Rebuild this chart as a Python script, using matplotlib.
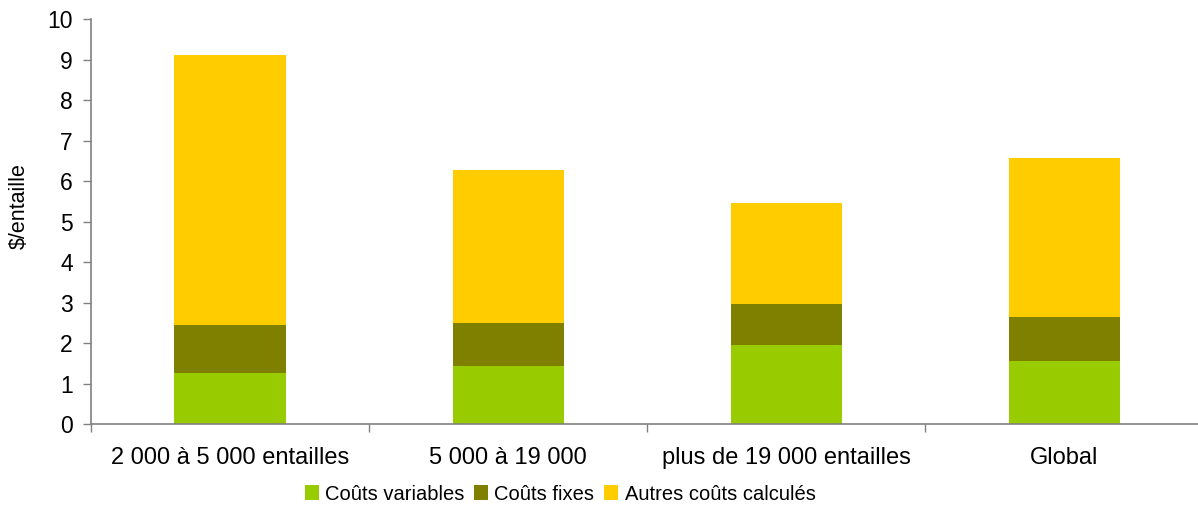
import numpy as np
import matplotlib
matplotlib.use('Agg')
import matplotlib.pyplot as plt

plt.rcParams['font.family'] = ['Liberation Sans', 'DejaVu Sans']

categories = ['2 000 à 5 000 entailles', '5 000 à 19 000',
              'plus de 19 000 entailles', 'Global']
variables = [1.27, 1.44, 1.96, 1.56]
fixes = [1.18, 1.06, 1.01, 1.09]
autres = [6.67, 3.78, 2.49, 3.92]

series = ['Coûts variables', 'Coûts fixes', 'Autres coûts calculés']
colors = ['#99CC00', '#808000', '#FFCC00']

fig = plt.figure(figsize=(11.98, 5.08), dpi=100)
ax = fig.add_axes([91 / 1198, 83.7 / 508, 1 - 91 / 1198, 405 / 508])

x = np.arange(len(categories))
bottom = np.zeros(len(categories))
for vals, name, col in zip([variables, fixes, autres], series, colors):
    ax.bar(x, vals, 0.40, bottom=bottom, color=col, label=name, zorder=2)
    bottom = bottom + np.array(vals)

ax.set_xlim(-0.5, 3.48)
ax.set_ylim(0, 10)
ax.set_yticks(range(0, 11))

# category separators as major ticks, labels on minor ticks
ax.set_xticks([-0.5, 0.5, 1.5, 2.5])
ax.set_xticklabels([])
ax.set_xticks(x, minor=True)
ax.set_xticklabels(categories, minor=True)
ax.tick_params(axis='x', which='minor', length=0, pad=16, labelsize=17)
ax.tick_params(axis='x', which='major', length=6, color='#808080', width=1)
ax.tick_params(axis='y', length=6, color='#808080', width=1, labelsize=16.5, pad=7)

for s in ['top', 'right']:
    ax.spines[s].set_visible(False)
for s in ['left', 'bottom']:
    ax.spines[s].set_color('#808080')
    ax.spines[s].set_linewidth(1.2)
    ax.spines[s].set_zorder(3)

ax.set_ylabel('$/entaille', fontsize=15.5)
ax.yaxis.set_label_coords(-0.055, 0.54)

fig.legend(loc='center', bbox_to_anchor=(560 / 1198, 14 / 508), ncol=3,
           frameon=False, fontsize=14.5, handlelength=0.7, handleheight=0.7,
           handletextpad=0.3, columnspacing=0.5, borderaxespad=0)

plt.savefig('out.png', dpi=100)
